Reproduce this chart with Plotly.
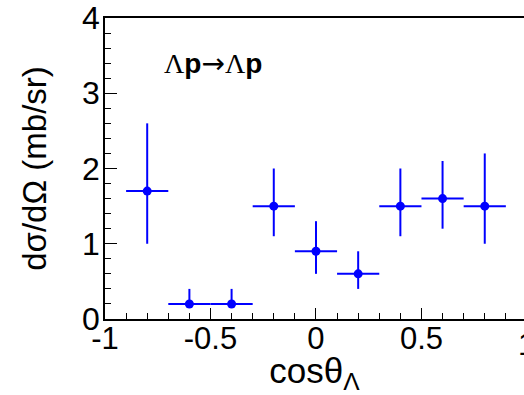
import plotly.graph_objects as go

cos_theta = [-0.8, -0.6, -0.4, -0.2, 0.0, 0.2, 0.4, 0.6, 0.8]
dsigma = [1.7, 0.2, 0.2, 1.5, 0.9, 0.6, 1.5, 1.6, 1.5]
err_up = [0.9, 0.2, 0.2, 0.5, 0.4, 0.3, 0.5, 0.5, 0.7]
err_down = [0.7, 0.05, 0.05, 0.4, 0.3, 0.2, 0.4, 0.4, 0.5]
bin_half = [0.1] * 9
x_tickvals = [-1, -0.5, 0, 0.5]
x_ticktext = ["-1", "-0.5", "0", "0.5"]
y_tickvals = [0, 1, 2, 3, 4]
y_ticktext = ["0", "1", "2", "3", "4"]

font = "Liberation Sans, Arial, sans-serif"
serif = "Liberation Serif, DejaVu Serif, serif"
blue = "#0000ff"
x_max = 0.986

fig = go.Figure()
fig.add_trace(go.Scatter(
    x=cos_theta, y=dsigma, mode="markers",
    marker=dict(color=blue, size=9, symbol="circle"),
    error_x=dict(type="data", array=bin_half, color=blue, thickness=2, width=0),
    error_y=dict(type="data", array=err_up, arrayminus=err_down, symmetric=False,
                 color=blue, thickness=2, width=0),
    cliponaxis=False,
))

fig.update_layout(
    width=524, height=395,
    margin=dict(l=105, r=0, t=18, b=76),
    plot_bgcolor="white", paper_bgcolor="white",
    showlegend=False,
    font=dict(family=font, color="black"),
    xaxis=dict(
        range=[-1, x_max], showgrid=False, zeroline=False,
        showline=True, linecolor="black", linewidth=1.5, mirror=True,
        ticks="inside", ticklen=11, tickwidth=1.2, tickcolor="black",
        tickvals=x_tickvals, ticktext=x_ticktext,
        tickfont=dict(size=31, family=font, color="black"),
        minor=dict(dtick=0.1, tick0=0, ticks="inside", ticklen=6, tickwidth=1.2, tickcolor="black"),
        title=dict(text="cosθ<sub>Λ</sub>", font=dict(size=35, family=font, color="black"), standoff=0),
        ticklabelstandoff=-9,
    ),
    yaxis=dict(
        range=[0, 4], showgrid=False, zeroline=False,
        showline=True, linecolor="black", linewidth=1.5,
        ticks="inside", ticklen=12, tickwidth=1.2, tickcolor="black",
        tickvals=y_tickvals, ticktext=y_ticktext,
        tickfont=dict(size=32, family=font, color="black"),
        minor=dict(dtick=0.2, tick0=0, ticks="inside", ticklen=6, tickwidth=1.2, tickcolor="black"),
        title=dict(text="dσ/dΩ (mb/sr)", font=dict(size=33, family=font, color="black"), standoff=26),
        ticklabelstandoff=-3,
    ),
)

fig.add_annotation(
    x=2 / (x_max + 1), y=0, xref="paper", yref="paper", text="1", showarrow=False,
    yanchor="top", xanchor="center", yshift=-6,
    font=dict(size=31, family=font, color="black"),
)
fig.add_annotation(
    x=-0.73, y=3.4, xref="x", yref="y",
    text=(f'<span style="font-family:{serif}">Λ</span><b>p</b>'
          f'<span style="font-family:DejaVu Sans">→</span>'
          f'<span style="font-family:{serif}">Λ</span><b>p</b>'),
    showarrow=False, xanchor="left", yanchor="middle",
    font=dict(size=28, family=font, color="black"),
)

fig.write_html("out.html")
